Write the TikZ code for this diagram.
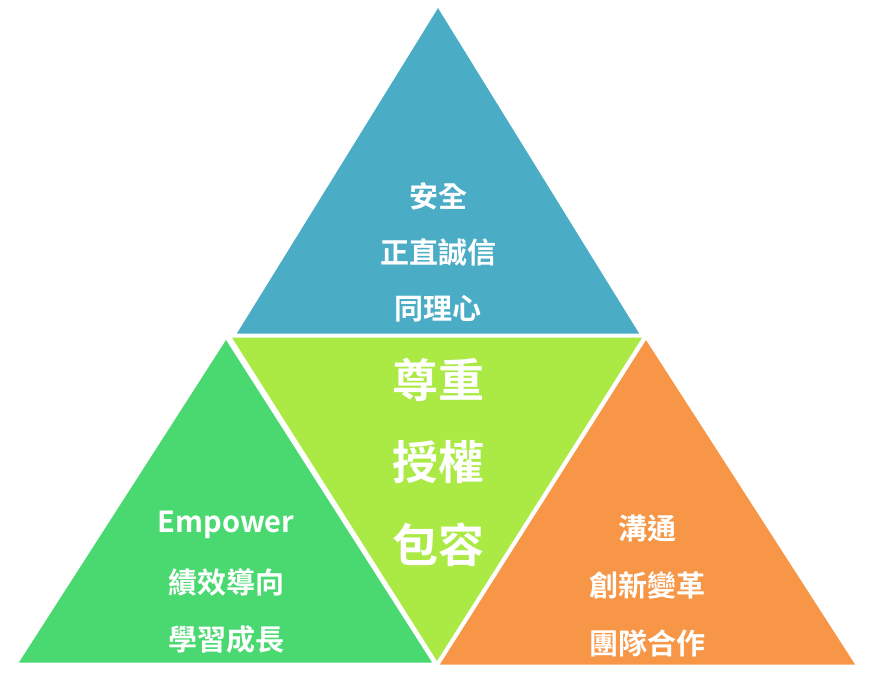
\documentclass[tikz,border=0pt]{standalone}
\usepackage{fontspec}
\newfontfamily\cjk{Noto Sans CJK TC Bold}
\definecolor{cblue}{HTML}{4BACC6}
\definecolor{cgreen}{HTML}{4AD870}
\definecolor{corange}{HTML}{F79646}
\definecolor{clime}{HTML}{ABE945}
\begin{document}
\begin{tikzpicture}[x=1pt,y=-1pt,
  tri/.style={draw=white,line width=3pt,line join=miter},
  txt/.style={text=white,font=\cjk\fontsize{29}{34}\selectfont},
  bigtxt/.style={text=white,font=\cjk\fontsize{46}{52}\selectfont}]
\useasboundingbox (0,0) rectangle (878,699);
\fill[white] (0,0) rectangle (878,699);
\filldraw[tri,fill=cblue] (438,5) -- (642,335) -- (234,335) -- cycle;
\filldraw[tri,fill=cgreen] (226,337) -- (435,664) -- (16,664) -- cycle;
\filldraw[tri,fill=corange] (646,337) -- (858,666) -- (437,666) -- cycle;
\filldraw[tri,fill=clime] (229,336) -- (645,336) -- (437,664) -- cycle;
\node[txt] (t1) at (438,196) {安全};
\node[txt] (t2) at (438,252) {正直誠信};
\node[txt] (t3) at (438,309) {同理心};
\node[bigtxt] (c1) at (438,380) {尊重};
\node[bigtxt] (c2) at (438,462) {授權};
\node[bigtxt] (c3) at (438,545) {包容};
\node[txt] (l1) at (226,525) {Empower};
\node[txt] (l2) at (226,582) {績效導向};
\node[txt] (l3) at (226,640) {學習成長};
\node[txt] (r1) at (647,528) {溝通};
\node[txt] (r2) at (647,585) {創新變革};
\node[txt] (r3) at (647,643) {團隊合作};
\end{tikzpicture}
\end{document}
